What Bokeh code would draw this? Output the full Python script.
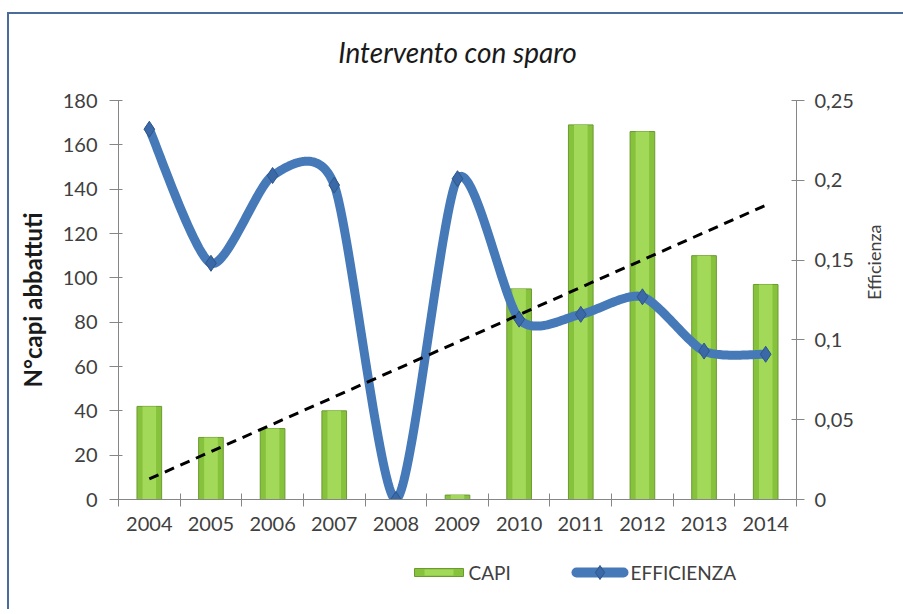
import math
import numpy as np
from bokeh.plotting import figure
from bokeh.layouts import column
from bokeh.models import (Range1d, LinearAxis, FixedTicker, ColumnDataSource,
                          CustomJSTickFormatter)
from bokeh.core.properties import value
from bokeh.embed import file_html
from bokeh.resources import INLINE

# ---- data ----
years = [2004, 2005, 2006, 2007, 2008, 2009, 2010, 2011, 2012, 2013, 2014]
capi = [42, 28, 32, 40, 0, 2, 95, 169, 166, 110, 97]
efficienza = [0.232, 0.148, 0.203, 0.197, 0.0, 0.201, 0.113, 0.116, 0.127, 0.093, 0.091]
left_ticks = [0, 20, 40, 60, 80, 100, 120, 140, 160, 180]
right_ticks = [0, 0.05, 0.1, 0.15, 0.2, 0.25]
right_tick_labels = ["0", "0,05", "0,1", "0,15", "0,2", "0,25"]
title_text = "Intervento con sparo"
left_label = "N°capi abbattuti"
right_label = "Efficienza"
series_names = ["CAPI", "EFFICIENZA"]

FONT = "Lato"
TXT = "#404040"
AXC = "#868686"
BAR_FILL, BAR_LINE, BAR_HI = "#86c23c", "#6b9a30", "#a6dc5c"
LINE_C, MARK_FILL, MARK_LINE = "#4679b8", "#3b68a6", "#2e5689"
FRAME_C = "#4a6c9b"


def smooth(xs, ys, k=1 / 8.0, n=40):
    """Bezier smoothing of a polyline (like a spreadsheet 'smoothed line')."""
    P = np.column_stack([xs, ys]).astype(float)
    ext = np.vstack([P[0], P, P[-1]])
    pts = []
    t = np.linspace(0, 1, n)[:, None]
    for i in range(len(P) - 1):
        p0, p1, p2, p3 = ext[i], ext[i + 1], ext[i + 2], ext[i + 3]
        c1 = p1 + (p2 - p0) * k
        c2 = p2 - (p3 - p1) * k
        seg = (1 - t) ** 3 * p1 + 3 * (1 - t) ** 2 * t * c1 + 3 * (1 - t) * t ** 2 * c2 + t ** 3 * p2
        pts.append(seg if i == 0 else seg[1:])
    arr = np.vstack(pts)
    return arr[:, 0], arr[:, 1]


sx, sy = smooth(years, efficienza)
coef = np.polyfit(years, capi, 1)
trend_x = [years[0], years[-1]]
trend_y = list(np.polyval(coef, trend_x))

src = ColumnDataSource(dict(x=years, capi=capi, eff=efficienza))

# ---------------- main chart ----------------
p = figure(frame_width=678, frame_height=399,
           x_range=Range1d(years[0] - 0.5, years[-1] + 0.5),
           y_range=Range1d(left_ticks[0], left_ticks[-1]),
           output_backend="svg", toolbar_location=None,
           min_border_left=118, min_border_right=107,
           min_border_top=100, min_border_bottom=40)
p.styles = {"box-shadow": f"inset 7px 12px 0 0 #ffffff, inset 9px 14px 0 0 {FRAME_C}"}
p.extra_y_ranges = {"eff": Range1d(right_ticks[0], right_ticks[-1])}
p.outline_line_color = None
p.xgrid.visible = False
p.ygrid.visible = False
p.background_fill_color = "white"
p.border_fill_alpha = 0

# title
p.title.text = title_text
p.title.align = "center"
p.title.offset = 5
p.title.text_font = FONT
p.title.text_font_style = "italic"
p.title.text_font_size = "28px"
p.title.text_color = "#1a1a1a"
p.title.standoff = 64

# left axis
ya = p.yaxis[0]
ya.ticker = FixedTicker(ticks=left_ticks)
ya.axis_label = left_label
ya.axis_label_text_font = FONT
ya.axis_label_text_font_style = "bold"
ya.axis_label_text_font_size = "24px"
ya.axis_label_text_color = "#1a1a1a"
ya.axis_label_standoff = 13
ya.major_label_text_font = FONT
ya.major_label_text_font_size = "20px"
ya.major_label_text_color = TXT
ya.major_label_standoff = 12
ya.axis_line_color = AXC
ya.major_tick_line_color = AXC
ya.major_tick_out = 9
ya.major_tick_in = 4
ya.minor_tick_line_color = None

# right axis
ra = LinearAxis(y_range_name="eff", ticker=FixedTicker(ticks=right_ticks),
                formatter=CustomJSTickFormatter(
                    args=dict(tvals=right_ticks, tlabs=right_tick_labels),
                    code="""
for (let i = 0; i < tvals.length; i++) {
  if (Math.abs(tvals[i] - tick) < 1e-9) { return tlabs[i]; }
}
return '';
"""))
ra.axis_label = right_label
ra.axis_label_text_font = FONT
ra.axis_label_text_font_style = "normal"
ra.axis_label_text_font_size = "18px"
ra.axis_label_text_color = TXT
ra.axis_label_standoff = 17
try:
    ra.axis_label_orientation = math.pi / 2
except Exception:
    pass
ra.major_label_text_font = FONT
ra.major_label_text_font_size = "20px"
ra.major_label_text_color = TXT
ra.major_label_standoff = 10
ra.axis_line_color = AXC
ra.major_tick_line_color = AXC
ra.major_tick_out = 8
ra.major_tick_in = 5
ra.minor_tick_line_color = None
p.add_layout(ra, "right")

# x axis
xa = p.xaxis[0]
bounds = [y - 0.5 for y in years] + [years[-1] + 0.5]
xa.ticker = FixedTicker(ticks=years, minor_ticks=bounds)
xa.major_tick_line_color = None
xa.major_tick_out = 0
xa.major_tick_in = 0
xa.minor_tick_line_color = AXC
xa.minor_tick_out = 7
xa.minor_tick_in = 6
xa.axis_line_color = AXC
xa.major_label_text_font = FONT
xa.major_label_text_font_size = "20px"
xa.major_label_text_color = TXT
xa.major_label_standoff = 10

# bars
p.vbar(x="x", top="capi", width=0.4, source=src,
       fill_color=BAR_FILL, line_color=BAR_LINE, line_width=1)
p.vbar(x="x", top="capi", width=0.22, source=src,
       fill_color=BAR_HI, line_color=None, fill_alpha=0.9)

# smooth efficiency line
p.line(sx, sy, y_range_name="eff", line_color=LINE_C, line_width=9,
       line_join="round", line_cap="round")
p.scatter(x="x", y="eff", source=src, y_range_name="eff", marker="diamond",
          size=16, fill_color=MARK_FILL, line_color=MARK_LINE, line_width=1)

# trend line
p.line(trend_x, trend_y, line_color="black", line_width=3, line_dash="10 7")

# ---------------- legend strip below the chart (pixel-unit canvas) ----------------
LW, LH = 903, 70
q = figure(frame_width=LW, frame_height=LH, title=None,
           x_range=Range1d(0, LW), y_range=Range1d(0, LH),
           x_axis_location=None, y_axis_location=None,
           output_backend="svg", toolbar_location=None,
           min_border_left=0, min_border_right=0, min_border_top=0, min_border_bottom=0)
q.styles = {"box-shadow": f"inset 7px 0 0 0 #ffffff, inset 9px 0 0 0 {FRAME_C}"}
q.outline_line_color = None
q.xgrid.visible = False
q.ygrid.visible = False
q.background_fill_alpha = 0
q.border_fill_alpha = 0

ly = 37  # legend row (pixels from the strip's bottom)
# CAPI swatch
q.quad(left=[296], right=[345], bottom=[ly - 4], top=[ly + 4],
       fill_color=BAR_FILL, line_color=BAR_LINE, line_width=1)
q.quad(left=[306], right=[335], bottom=[ly - 3], top=[ly + 3],
       fill_color=BAR_HI, line_color=None, fill_alpha=0.9)
q.text(x=[350], y=[ly], text=[series_names[0]], text_font=value(FONT),
       text_font_size="19px", text_color=TXT, text_baseline="middle", text_align="left")
# EFFICIENZA swatch
q.line(x=[458, 505], y=[ly, ly], line_color=LINE_C, line_width=10, line_cap="round")
q.scatter(x=[481.5], y=[ly], marker="diamond", size=14,
          fill_color=MARK_FILL, line_color=MARK_LINE, line_width=1)
q.text(x=[512], y=[ly], text=[series_names[1]], text_font=value(FONT),
       text_font_size="19px", text_color=TXT, text_baseline="middle", text_align="left")

layout = column(p, q, spacing=0)
open("out.html", "w").write(file_html(layout, INLINE))
